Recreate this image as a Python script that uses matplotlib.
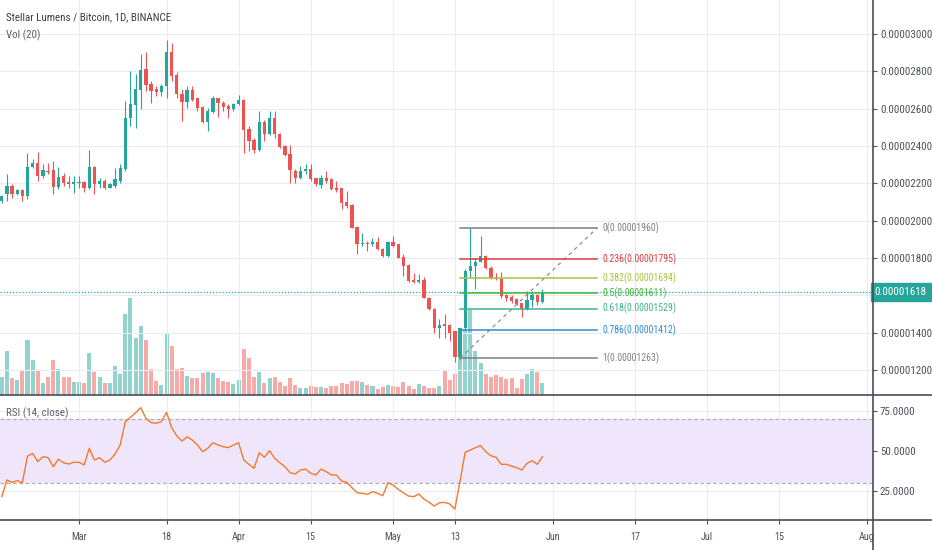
import numpy as np
import matplotlib.pyplot as plt
from matplotlib.lines import Line2D
from matplotlib.patches import Rectangle

plt.rcParams['font.family'] = ['Roboto Condensed', 'Liberation Sans', 'DejaVu Sans']

# daily candles, day 0 = 1 Mar; prices in satoshi (1e-8 BTC)
days = np.arange(-15, 91)

opens = [2105, 2141, 2186, 2145, 2163, 2132, 2289, 2307, 2239, 2266,
         2271, 2182, 2239, 2207, 2195, 2200, 2207, 2177, 2289, 2195,
         2212, 2177, 2186, 2212, 2275, 2548, 2620, 2698, 2811, 2734,
         2704, 2691, 2721, 2905, 2780, 2680, 2638, 2698, 2655, 2609,
         2530, 2584, 2655, 2632, 2612, 2596, 2627, 2645, 2489, 2430,
         2377, 2530, 2462, 2548, 2466, 2400, 2359, 2266, 2230, 2266,
         2275, 2227, 2191, 2230, 2221, 2177, 2173, 2102, 2084, 1968,
         1873, 1882, 1873, 1888, 1850, 1811, 1888, 1873, 1807, 1763,
         1682, 1671, 1682, 1588, 1525, 1423, 1445, 1441, 1407, 1272,
         1425, 1731, 1755, 1780, 1809, 1749, 1695, 1686, 1600, 1593,
         1578, 1557, 1528, 1575, 1600, 1564]
highs = [2140, 2248, 2195, 2170, 2170, 2364, 2329, 2370, 2302, 2311,
         2320, 2289, 2257, 2239, 2239, 2239, 2212, 2377, 2293, 2230,
         2221, 2200, 2284, 2305, 2641, 2802, 2784, 2891, 2905, 2748,
         2721, 2730, 2966, 2954, 2798, 2704, 2721, 2721, 2659, 2614,
         2605, 2668, 2659, 2641, 2623, 2632, 2671, 2650, 2507, 2445,
         2588, 2537, 2588, 2588, 2471, 2405, 2405, 2275, 2293, 2302,
         2302, 2230, 2245, 2266, 2230, 2212, 2177, 2159, 2088, 1971,
         1936, 1891, 1909, 1912, 1855, 1891, 1918, 1877, 1820, 1766,
         1721, 1716, 1698, 1591, 1530, 1471, 1498, 1445, 1407, 1425,
         1740, 1960, 1798, 1917, 1816, 1758, 1722, 1726, 1605, 1600,
         1587, 1560, 1623, 1623, 1605, 1632]
lows = [2095, 2105, 2123, 2140, 2105, 2114, 2284, 2212, 2230, 2248,
        2141, 2168, 2186, 2177, 2150, 2177, 2155, 2168, 2141, 2177,
        2168, 2173, 2177, 2204, 2266, 2507, 2498, 2596, 2695, 2632,
        2668, 2668, 2659, 2748, 2659, 2534, 2605, 2641, 2588, 2525,
        2480, 2579, 2555, 2588, 2552, 2588, 2620, 2364, 2373, 2364,
        2373, 2427, 2459, 2445, 2391, 2346, 2204, 2204, 2221, 2248,
        2212, 2186, 2177, 2204, 2164, 2155, 2061, 2070, 1959, 1823,
        1864, 1838, 1864, 1843, 1807, 1807, 1861, 1798, 1704, 1673,
        1668, 1668, 1584, 1521, 1400, 1373, 1373, 1355, 1245, 1254,
        1416, 1695, 1632, 1776, 1740, 1686, 1683, 1587, 1569, 1560,
        1546, 1485, 1521, 1539, 1546, 1560]
closes = [2132, 2186, 2145, 2163, 2132, 2289, 2311, 2239, 2271, 2260,
          2180, 2236, 2204, 2195, 2207, 2205, 2173, 2289, 2195, 2212,
          2177, 2195, 2221, 2284, 2548, 2623, 2704, 2807, 2727, 2695,
          2691, 2721, 2905, 2775, 2677, 2638, 2698, 2645, 2602, 2530,
          2588, 2655, 2632, 2609, 2596, 2627, 2645, 2484, 2427, 2377,
          2530, 2462, 2548, 2462, 2396, 2352, 2270, 2230, 2266, 2275,
          2221, 2195, 2230, 2212, 2168, 2162, 2096, 2079, 1962, 1873,
          1882, 1873, 1888, 1846, 1811, 1886, 1864, 1802, 1757, 1677,
          1671, 1682, 1588, 1525, 1427, 1441, 1436, 1400, 1272, 1425,
          1731, 1758, 1780, 1809, 1749, 1695, 1686, 1596, 1587, 1569,
          1551, 1528, 1575, 1600, 1564, 1618]
volume = [18, 44, 17, 15, 24, 55, 35, 24, 12, 18,
          35, 26, 18, 18, 13, 13, 12, 42, 23, 18,
          12, 12, 29, 21, 81, 97, 57, 69, 55, 26,
          14, 10, 61, 49, 26, 27, 19, 17, 17, 22,
          23, 22, 17, 14, 13, 11, 15, 46, 37, 18,
          23, 12, 17, 18, 13, 9, 17, 10, 7, 7,
          9, 8, 8, 7, 9, 9, 12, 11, 14, 14,
          13, 10, 9, 6, 8, 10, 9, 8, 13, 9,
          6, 11, 9, 7, 7, 9, 24, 15, 21, 38,
          66, 85, 44, 32, 21, 18, 20, 18, 16, 17,
          7, 16, 21, 26, 23, 12]
rsi = [21.2, 31.7, 30.2, 31.3, 30.0, 46.8, 48.5, 43.3, 46.4, 45.8,
       40.1, 44.8, 42.6, 41.8, 42.9, 42.9, 41.2, 51.7, 44.3, 45.8,
       42.9, 44.3, 48.1, 53.8, 68.5, 71.2, 74.2, 77.3, 70.6, 67.9,
       67.5, 68.5, 74.4, 64.7, 59.5, 56.3, 59.0, 56.9, 53.8, 49.6,
       51.7, 55.2, 53.8, 52.7, 52.1, 53.8, 55.2, 44.3, 41.6, 39.1,
       48.9, 46.0, 50.2, 45.4, 42.6, 40.1, 36.3, 35.5, 38.0, 38.6,
       35.9, 34.9, 38.6, 37.0, 34.9, 34.9, 31.1, 30.2, 26.9, 23.7,
       23.3, 22.7, 24.3, 23.3, 21.8, 30.0, 28.5, 25.8, 23.7, 21.6,
       21.2, 22.9, 19.7, 17.6, 15.3, 17.4, 17.6, 16.6, 13.4, 31.0,
       49.2, 50.6, 52.1, 53.4, 49.6, 47.0, 46.0, 41.6, 41.6, 40.5,
       39.5, 38.0, 42.2, 43.9, 41.6, 46.4]

fib_levels = ['0', '0.236', '0.382', '0.5', '0.618', '0.786', '1']
fib_prices = [1960, 1795, 1694, 1611, 1529, 1412, 1263]
fib_colors = ['#808080', '#e03b3b', '#a5c43c', '#3cba3c', '#3db38f', '#2f8cd0', '#808080']
fib_start, fib_end = 74, 100.6
last_price = 1618

date_ticks = [0, 17, 31, 45, 61, 73, 92, 108, 122, 136, 153]
date_labels = ['Mar', '18', 'Apr', '15', 'May', '13', 'Jun', '17', 'Jul', '15', 'Aug']
price_ticks = [1200, 1400, 1600, 1800, 2000, 2200, 2400, 2600, 2800, 3000]
rsi_ticks = [25, 50, 75]

UP, DOWN = '#26a69a', '#ef5350'
UP_VOL, DOWN_VOL = '#93d3cd', '#f7aaa8'
GRID = '#e9ecf2'
TXT = '#4c525e'
FS = 7.9      # axis labels
FS_FIB = 7.0
FS_HEAD = 7.9

W, H = 932, 550
fig = plt.figure(figsize=(W / 100, H / 100), dpi=100)
ax = fig.add_axes([0, 1 - 395 / H, 873 / W, 395 / H])
axr = fig.add_axes([0, 30 / H, 873 / W, 125 / H], sharex=ax)
axv = ax.twinx()
ax.set_zorder(axv.get_zorder() + 1)
ax.patch.set_visible(False)

o = np.array(opens)
c = np.array(closes)
up = c >= o

# volume
axv.bar(days, volume, width=0.78, color=np.where(up, UP_VOL, DOWN_VOL), lw=0)
axv.set_ylim(0, max(volume) * 395 / 97)
axv.set_yticks([])
for s in axv.spines.values():
    s.set_visible(False)

# candles
cols = np.where(up, UP, DOWN)
ax.vlines(days, lows, highs, colors=cols, lw=0.8, zorder=3)
ax.bar(days, np.maximum(np.abs(c - o), 4), bottom=np.minimum(o, c),
       width=0.64, color=cols, lw=0, zorder=3)

# last price
ax.axhline(last_price, color=UP, lw=0.9, ls=(0, (1, 1.5)), zorder=2)
ax.text(1.002, last_price, f'{last_price / 1e8:.8f}', transform=ax.get_yaxis_transform(),
        ha='left', va='center', color='white', fontsize=FS,
        bbox=dict(boxstyle='square,pad=0.35', fc=UP, ec=UP))

# fib retracement
ax.plot([fib_start, fib_end], [fib_prices[-1], fib_prices[0]], color='#8a8d96',
        ls=(0, (3, 3)), lw=0.9, zorder=4)
for lvl, p, col in zip(fib_levels, fib_prices, fib_colors):
    ax.plot([fib_start, fib_end], [p, p], color=col, lw=1.1, zorder=4)
    ax.text(fib_end + 1, p, f'{lvl}({p / 1e8:.8f})', color=col, fontsize=FS_FIB,
            va='center', ha='left')

ax.set_ylim(1066, 3182)
ax.set_xlim(-15.34, 154.2)
ax.set_yticks(price_ticks)
ax.set_yticklabels(['' if p == last_price // 100 * 100 else f'{p / 1e8:.8f}' for p in price_ticks])
ax.yaxis.tick_right()
ax.tick_params(axis='y', length=3, color='#50535e', labelcolor=TXT, labelsize=FS, pad=2)
ax.tick_params(axis='x', length=0, labelbottom=False)
ax.set_xticks(date_ticks)
ax.grid(color=GRID, lw=0.8)
ax.set_axisbelow(True)
for s in ax.spines.values():
    s.set_visible(False)

# RSI
axr.axhspan(30, 70, color='#f0e6fc', lw=0)
for lvl in (70, 30):
    axr.axhline(lvl, color='#b3adbd', ls=(0, (3, 2)), lw=0.9)
axr.plot(days, rsi, color='#f5792a', lw=1.0)
axr.set_ylim(6.5, 85.3)
axr.set_yticks(rsi_ticks)
axr.set_yticklabels([f'{v:.4f}' for v in rsi_ticks])
axr.yaxis.tick_right()
axr.tick_params(axis='y', length=3, color='#50535e', labelcolor=TXT, labelsize=FS, pad=2)
axr.set_xticks(date_ticks)
axr.set_xticklabels(date_labels)
axr.tick_params(axis='x', length=3, color='#50535e', labelcolor=TXT, labelsize=7.3, pad=6)
axr.grid(color=GRID, lw=0.8)
axr.set_axisbelow(True)
for s in axr.spines.values():
    s.set_visible(False)

# pane borders
fig.patches.append(Rectangle((874 / W, 0), 58 / W, 29 / H, transform=fig.transFigure,
                             fc='white', ec='none', zorder=3))
for yy in (395, 520):
    fig.add_artist(Line2D([0, 1], [1 - yy / H] * 2, color='#4a4d57', lw=1.2, zorder=4))
fig.add_artist(Line2D([873 / W] * 2, [0, 1], color='#4a4d57', lw=1.2, zorder=4))

fig.text(6 / W, 1 - 17 / H, 'Stellar Lumens / Bitcoin, 1D, BINANCE', fontsize=FS_HEAD,
         color='#3b3e48', va='center')
fig.text(6 / W, 1 - 35 / H, 'Vol (20)', fontsize=FS_HEAD, color='#5d606b', va='center')
fig.text(6 / W, 1 - 413 / H, 'RSI (14, close)', fontsize=FS_HEAD, color='#5d606b', va='center')

fig.savefig('out.png', dpi=100)
